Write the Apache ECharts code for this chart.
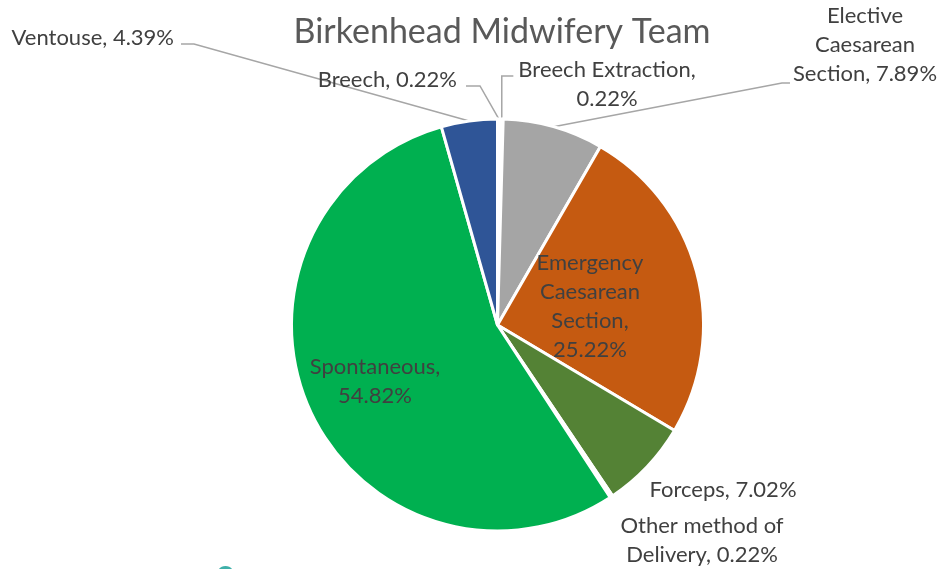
<!DOCTYPE html>
<html>
<head>
<meta charset="utf-8">
<script src="https://cdn.jsdelivr.net/npm/echarts@6/dist/echarts.min.js"></script>
<style>
  html, body { margin: 0; padding: 0; background: #ffffff; }
  #chart { width: 940px; height: 569px; }
</style>
</head>
<body>
<div id="chart"></div>
<script>
// Delivery methods, in legend order (first slice starts at 12 o'clock, clockwise)
const categories = [
  'Breech',
  'Breech Extraction',
  'Elective Caesarean Section',
  'Emergency Caesarean Section',
  'Forceps',
  'Other method of Delivery',
  'Spontaneous',
  'Ventouse'
];
// Share of deliveries, %
const shares = [0.22, 0.22, 7.89, 25.22, 7.02, 0.22, 54.82, 4.39];
const sliceColors = ['#ED7D31', '#4472C4', '#A5A5A5', '#C55A11', '#548235', '#FFC000', '#00B050', '#2F5597'];

// Word indices after which a label wraps onto a new line
const labelBreaks = [[], [1], [0, 1], [0, 1, 2], [], [2], [0], []];
// Where each label sits: [x, y (vertical centre), text align]
const labelPlace = [
  [457, 80, 'right'],
  [607, 84, 'center'],
  [865, 45, 'center'],
  [590, 306, 'center'],
  [723, 490, 'center'],
  [702, 540, 'center'],
  [375, 381, 'center'],
  [174, 38, 'right']
];
// Leader lines: which label edge they meet, offset from it, and the short horizontal run
const leaderSpec = {
  0: { edge: 'right', dx: 9, dy: 6, run: 14 },
  1: { edge: 'left', dx: -5, dy: -8, vertical: true },
  2: { edge: 'left', dx: -3, dy: 38, run: -8 },
  7: { edge: 'right', dx: 7, dy: 6, run: 13 }
};

const FONT = 'Lato, "Open Sans", sans-serif';

function labelText(p) {
  const words = (p.name + ', ' + p.percent.toFixed(2) + '%').split(' ');
  const br = labelBreaks[p.dataIndex];
  return words.map((w, i) => w + (i < words.length - 1 ? (br.indexOf(i) >= 0 ? '\n' : ' ') : '')).join('');
}

const chart = echarts.init(document.getElementById('chart'), null, { renderer: 'canvas' });

chart.setOption({
  backgroundColor: '#ffffff',
  animation: false,
  title: {
    text: 'Birkenhead Midwifery Team',
    left: 497,
    textAlign: 'center',
    top: 10,
    textStyle: { fontFamily: FONT, fontSize: 34, fontWeight: 'normal', color: '#595959' }
  },
  graphic: [{
    type: 'ellipse',
    shape: { cx: 225.5, cy: 573, rx: 8, ry: 7 },
    style: { fill: '#3FB0A9' }
  }],
  series: [{
    type: 'pie',
    center: [497.5, 325],
    radius: 206,
    startAngle: 90,
    clockwise: true,
    avoidLabelOverlap: false,
    itemStyle: { borderColor: '#ffffff', borderWidth: 3 },
    label: {
      show: true,
      formatter: labelText,
      fontFamily: FONT,
      fontSize: 22,
      lineHeight: 29,
      color: '#404040'
    },
    labelLine: {
      show: true,
      lineStyle: { color: '#A6A6A6', width: 1.5 }
    },
    labelLayout: function (params) {
      const i = params.dataIndex;
      const pl = labelPlace[i];
      const w = params.labelRect.width;
      const left = pl[2] === 'right' ? pl[0] - w : pl[2] === 'center' ? pl[0] - w / 2 : pl[0];
      const out = { x: pl[0], y: pl[1], align: pl[2], verticalAlign: 'middle' };
      const spec = leaderSpec[i];
      if (spec && params.labelLinePoints) {
        const start = params.labelLinePoints[0];
        const ex = (spec.edge === 'right' ? left + w : left) + spec.dx;
        const ey = pl[1] + spec.dy;
        const bend = spec.vertical ? [start[0], ey] : [ex + spec.run, ey];
        out.labelLinePoints = [start, bend, [ex, ey]];
      }
      return out;
    },
    data: categories.map((name, i) => ({
      name: name,
      value: shares[i],
      itemStyle: { color: sliceColors[i] },
      labelLine: { show: !!leaderSpec[i] }
    }))
  }]
});
</script>
</body>
</html>
